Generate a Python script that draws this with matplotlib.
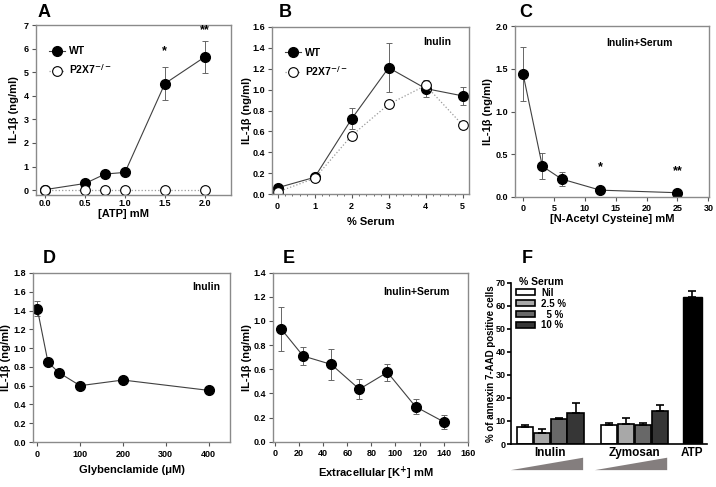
import matplotlib.pyplot as plt
from matplotlib.patches import Patch, Polygon
from matplotlib.ticker import MultipleLocator
import matplotlib.transforms as mtransforms

plt.rcParams['font.family'] = ['Liberation Sans', 'DejaVu Sans']
plt.rcParams['font.weight'] = 'bold'
plt.rcParams['axes.labelweight'] = 'bold'

# ---- data ----
atp_mm = [0.0, 0.5, 0.75, 1.0, 1.5, 2.0]
atp_wt = [0.02, 0.28, 0.68, 0.75, 4.52, 5.65]
atp_wt_err = [0.0, 0.0, 0.0, 0.0, 0.70, 0.68]
atp_ko = [0.02, 0.02, 0.02, 0.02, 0.02, 0.02]

serum_pct = [0, 1, 2, 3, 4, 5]
serum_wt = [0.06, 0.16, 0.72, 1.21, 1.01, 0.94]
serum_wt_err = [0.0, 0.0, 0.10, 0.235, 0.08, 0.085]
serum_ko = [0.02, 0.15, 0.56, 0.86, 1.04, 0.66]

nac_mm = [0, 3.125, 6.25, 12.5, 25]
nac_il = [1.44, 0.36, 0.21, 0.08, 0.05]
nac_err = [0.32, 0.15, 0.08, 0.02, 0.01]

gly_um = [0, 25, 50, 100, 200, 400]
gly_il = [1.42, 0.85, 0.74, 0.60, 0.66, 0.55]
gly_err = [0.08, 0.02, 0.02, 0.02, 0.03, 0.02]

k_mm = [5, 23.3, 46.7, 70, 93.3, 116.7, 140]
k_il = [0.935, 0.71, 0.64, 0.435, 0.575, 0.29, 0.165]
k_err = [0.185, 0.075, 0.13, 0.085, 0.072, 0.06, 0.06]

serum_levels = ['Nil', '2.5 %', '  5 %', '10 %']
inulin_pct = [7.3, 4.9, 10.9, 13.3]
inulin_err = [0.9, 1.5, 0.3, 4.4]
zymosan_pct = [8.3, 8.7, 8.3, 14.5]
zymosan_err = [1.0, 2.7, 0.6, 2.5]
atp_pct = 64.0
atp_pct_err = 2.6
bar_colors = ['white', '#a8a8a8', '#686868', '#363636']

W, H = 716, 487
fig = plt.figure(figsize=(W / 100, H / 100), dpi=100)


def box(l, t, r, b):
    return [l / W, 1 - b / H, (r - l) / W, (b - t) / H]


def style(ax, xpad=2.5):
    for s in ax.spines.values():
        s.set_color('#8a8a8a')
        s.set_linewidth(1.0)
    ax.tick_params(direction='out', length=3, width=0.8, color='#555555',
                   labelsize=6.5, pad=2)
    ax.tick_params(axis='x', pad=xpad)


def ylab(ax, x):
    ax.set_ylabel('IL-1β (ng/ml)', fontsize=8)
    ax.yaxis.set_label_coords(x, 0.5)


def letter(x, y, s):
    fig.text(x / W, 1 - y / H, s, fontsize=13, fontweight='bold', va='top')


line_kw = dict(color='#404040', lw=0.8, marker='o', ms=7, mfc='black', mec='black')
ko_kw = dict(color='#9a9a9a', lw=0.9, ls=':', marker='o', ms=7, mfc='white',
             mec='black', mew=0.8)
err_kw = dict(fmt='none', ecolor='#666666', elinewidth=0.7, capsize=2, capthick=0.7)

# ---- A ----
ax = fig.add_axes(box(35.7, 25, 231, 195))
style(ax, xpad=1)
ax.tick_params(axis='x', length=2)
ax.errorbar(atp_mm, atp_wt, yerr=atp_wt_err, **err_kw)
ax.plot(atp_mm, atp_wt, label='WT', **line_kw)
ax.plot(atp_mm, atp_ko, label='P2X7$^{-/-}$', **ko_kw)
ax.set_xlim(-0.12, 2.33)
ax.set_ylim(-0.21, 7.01)
ax.set_xticks([0.0, 0.5, 1.0, 1.5, 2.0])
ax.set_xticklabels(['0.0', '0.5', '1.0', '1.5', '2.0'])
ax.set_yticks(range(8))
ax.text(atp_mm[4], 5.75, '*', ha='center', fontsize=9)
ax.text(atp_mm[5], 6.65, '**', ha='center', fontsize=9)
ax.legend(loc='upper left', bbox_to_anchor=(0.02, 0.93), frameon=False, fontsize=7.5,
          handletextpad=0.4, labelspacing=0.6, numpoints=1, handlelength=1.5)
ax.set_xlabel('[ATP] mM', fontsize=8)
ax.xaxis.set_label_coords(0.45, -0.085)
ylab(ax, -0.085)
letter(38, 4, 'A')

# ---- B ----
ax = fig.add_axes(box(271.7, 27, 469, 194))
style(ax)
ax.errorbar(serum_pct, serum_wt, yerr=serum_wt_err, **err_kw)
ax.plot(serum_pct, serum_wt, label='WT', **line_kw)
ax.plot(serum_pct, serum_ko, label='P2X7$^{-/-}$', **ko_kw)
ax.set_xlim(-0.16, 5.17)
ax.set_ylim(0, 1.6)
ax.xaxis.set_minor_locator(MultipleLocator(0.2))
ax.tick_params(which='minor', length=1.5, color='#555555')
ax.set_yticks([0.0, 0.2, 0.4, 0.6, 0.8, 1.0, 1.2, 1.4, 1.6])
ax.set_yticklabels(['0.0', '0.2', '0.4', '0.6', '0.8', '1.0', '1.2', '1.4', '1.6'])
ax.text(0.84, 0.91, 'Inulin', transform=ax.transAxes, ha='center', va='center', fontsize=7.5)
ax.legend(loc='upper left', bbox_to_anchor=(0.02, 0.93), frameon=False, fontsize=7.5,
          handletextpad=0.4, labelspacing=0.6, numpoints=1, handlelength=1.5)
ax.set_xlabel('% Serum', fontsize=8)
ax.xaxis.set_label_coords(0.5, -0.135)
ylab(ax, -0.10)
letter(279, 4, 'B')

# ---- C ----
ax = fig.add_axes(box(515, 26, 709, 197))
style(ax, xpad=2)
ax.errorbar(nac_mm, nac_il, yerr=nac_err, **err_kw)
ax.plot(nac_mm, nac_il, **line_kw)
ax.set_xlim(-1.3, 30.1)
ax.set_ylim(0, 2.0)
ax.set_xticks(range(0, 31, 5))
ax.set_yticks([0.0, 0.5, 1.0, 1.5, 2.0])
ax.set_yticklabels(['0.0', '0.5', '1.0', '1.5', '2.0'])
ax.text(nac_mm[3], 0.31, '*', ha='center', fontsize=9)
ax.text(nac_mm[4], 0.27, '**', ha='center', fontsize=9)
ax.text(0.64, 0.90, 'Inulin+Serum', transform=ax.transAxes, ha='center', va='center', fontsize=7.5)
ax.set_xlabel('[N-Acetyl Cysteine] mM', fontsize=8)
ax.xaxis.set_label_coords(0.5, -0.102)
ylab(ax, -0.113)
letter(519, 4, 'C')

# ---- D ----
ax = fig.add_axes(box(33, 273, 230, 442))
style(ax)
ax.errorbar(gly_um, gly_il, yerr=gly_err, **err_kw)
ax.plot(gly_um, gly_il, **line_kw)
ax.set_xlim(-10, 450)
ax.set_ylim(0, 1.8)
ax.set_xticks(range(0, 401, 100))
ax.set_yticks([i / 10 for i in range(0, 19, 2)])
ax.set_yticklabels(['%.1f' % (i / 10) for i in range(0, 19, 2)])
ax.text(0.879, 0.915, 'Inulin', transform=ax.transAxes, ha='center', va='center', fontsize=7.5)
ax.set_xlabel('Glybenclamide (μM)', fontsize=8)
ax.xaxis.set_label_coords(0.5, -0.136)
ylab(ax, -0.112)
letter(43, 250, 'D')

# ---- E ----
ax = fig.add_axes(box(273.3, 272.7, 468.3, 441.7))
style(ax)
ax.errorbar(k_mm, k_il, yerr=k_err, **err_kw)
ax.plot(k_mm, k_il, **line_kw)
ax.set_xlim(-1.5, 160.5)
ax.set_ylim(0, 1.4)
ax.set_xticks(range(0, 161, 20))
ax.set_yticks([i / 10 for i in range(0, 15, 2)])
ax.set_yticklabels(['%.1f' % (i / 10) for i in range(0, 15, 2)])
ax.text(0.735, 0.887, 'Inulin+Serum', transform=ax.transAxes, ha='center', va='center', fontsize=7.5)
ax.set_xlabel('Extracellular [K$^{+}$] mM', fontsize=8)
ax.xaxis.set_label_coords(0.527, -0.138)
ylab(ax, -0.109)
letter(283, 250, 'E')

# ---- F ----
ax = fig.add_axes(box(511, 282.7, 706.7, 444))
inulin_x = [0, 1, 2, 3]
zymosan_x = [5, 6, 7, 8]
atp_x = 9.95
ekw = dict(ecolor='black', elinewidth=1.2, capsize=3, capthick=1.2)
for i in range(4):
    ax.bar(inulin_x[i], inulin_pct[i], width=0.96, color=bar_colors[i], edgecolor='black', lw=1.2,
           yerr=[[0], [inulin_err[i]]], error_kw=ekw)
    ax.bar(zymosan_x[i], zymosan_pct[i], width=0.96, color=bar_colors[i], edgecolor='black', lw=1.2,
           yerr=[[0], [zymosan_err[i]]], error_kw=ekw)
ax.bar(atp_x, atp_pct, width=1.1, color='black', edgecolor='black',
       yerr=[[0], [atp_pct_err]], error_kw=ekw)
ax.set_xlim(-0.84, 10.8)
ax.set_ylim(0, 70)
ax.set_yticks(range(0, 71, 10))
for s in ['top', 'right']:
    ax.spines[s].set_visible(False)
ax.spines['left'].set_linewidth(1.2)
ax.spines['bottom'].set_linewidth(1.2)
ax.tick_params(axis='y', direction='out', length=3, width=1.2, labelsize=6.5, pad=1)
ax.set_xticks([sum(inulin_x) / 4, sum(zymosan_x) / 4, atp_x])
ax.set_xticklabels(['Inulin', 'Zymosan', 'ATP'], fontsize=8.5)
ax.tick_params(axis='x', length=0, pad=2)
ax.set_ylabel('% of annexin 7-AAD positive cells', fontsize=7)
ax.yaxis.set_label_coords(-0.077, 0.5)
trans = mtransforms.blended_transform_factory(ax.transData, ax.transAxes)
for xs in (inulin_x, zymosan_x):
    x0 = xs[0] - 0.85
    x1 = xs[-1] + 0.45
    tri = Polygon([(x0, -0.162), (x1, -0.085), (x1, -0.162)], closed=True,
                  transform=trans, clip_on=False, facecolor='#847e7e', edgecolor='none')
    ax.add_patch(tri)
handles = [Patch(facecolor=c, edgecolor='black', lw=1.2) for c in bar_colors]
ax.legend(handles, serum_levels, title='% Serum', loc='upper left', bbox_to_anchor=(-0.01, 1.08),
          frameon=False, fontsize=7, title_fontsize=7.5, handlelength=2.0, handleheight=0.45,
          labelspacing=0.1, handletextpad=0.6, borderpad=0.2)
letter(522, 250, 'F')

fig.savefig('out.png', dpi=100)
